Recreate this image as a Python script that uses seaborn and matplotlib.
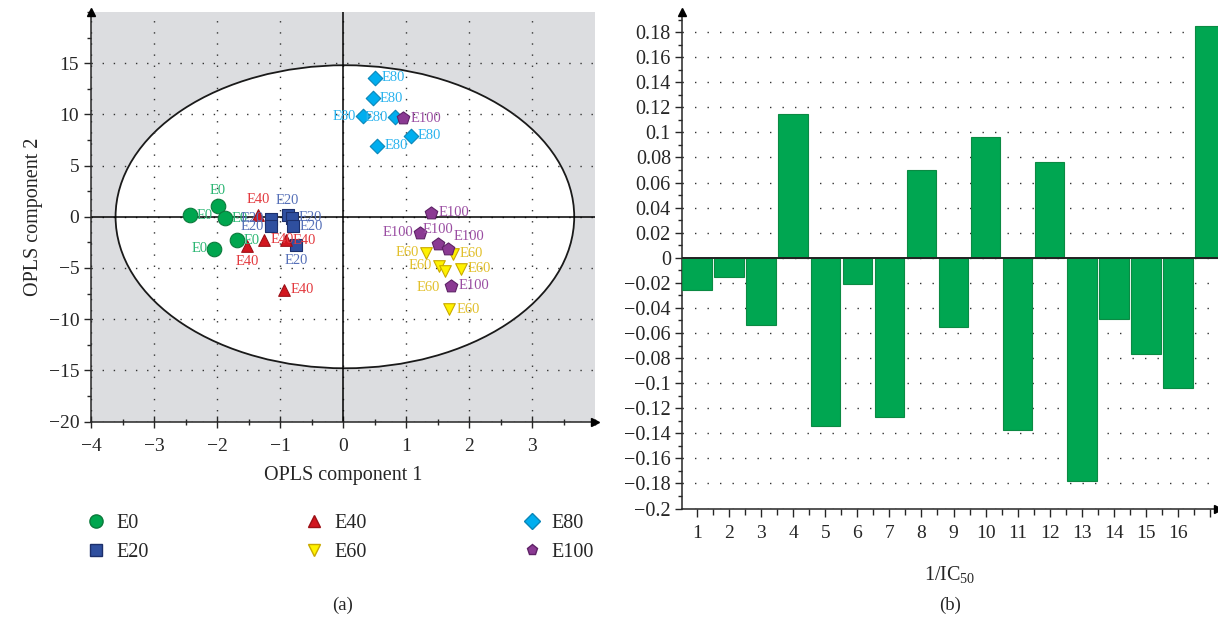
import numpy as np
import pandas as pd
import matplotlib
matplotlib.use("Agg")
import matplotlib.pyplot as plt
import seaborn as sns
from matplotlib.patches import Ellipse
from matplotlib.lines import Line2D
from matplotlib.ticker import MultipleLocator, FuncFormatter

# ---- data ----
groups = ["E0", "E20", "E40", "E60", "E80", "E100"]

e0_x = [-2.43, -1.99, -1.88, -1.68, -2.04]
e0_y = [0.13, 1.07, -0.13, -2.31, -3.12]
e20_x = [-0.88, -0.81, -1.15, -1.15, -0.80, -0.74]
e20_y = [0.13, -0.10, -0.19, -0.91, -0.91, -2.79]
e40_x = [-1.35, -1.26, -0.91, -1.52, -0.94]
e40_y = [0.19, -2.24, -2.31, -2.89, -7.11]
e60_x = [1.32, 1.74, 1.52, 1.62, 1.87, 1.69]
e60_y = [-3.51, -3.60, -4.81, -5.29, -5.10, -9.03]
e80_x = [0.51, 0.47, 0.32, 0.83, 1.08, 0.545]
e80_y = [13.6, 11.56, 9.81, 9.74, 7.92, 6.95]
e100_x = [0.96, 1.40, 1.23, 1.51, 1.67, 1.72]
e100_y = [9.61, 0.39, -1.56, -2.66, -3.12, -6.75]

bar_idx = list(range(1, 18))
bar_vals = [-0.026, -0.015, -0.054, 0.115, -0.134, -0.021, -0.127, 0.070,
            -0.055, 0.096, -0.137, 0.076, -0.178, -0.049, -0.077, -0.104, 0.185]
bar_ticklabels = [str(i) for i in range(1, 17)] + [""]

# where each point label sits relative to its marker
label_side = {
    "E0": ["r", "a", "r", "r", "l"],
    "E20": ["a", "r", "l", "l", "r", "b"],
    "E40": ["a", "r", "r", "b", "r"],
    "E60": ["l", "r", "l", "bl", "r", "r"],
    "E80": ["r", "r", "l", "l", "r", "r"],
    "E100": ["r", "r", "l", "a", "ar", "r"],
}

xs = [e0_x, e20_x, e40_x, e60_x, e80_x, e100_x]
ys = [e0_y, e20_y, e40_y, e60_y, e80_y, e100_y]
rows = []
for g, gx, gy in zip(groups, xs, ys):
    for i, (a, b) in enumerate(zip(gx, gy)):
        rows.append({"group": g, "c1": a, "c2": b, "side": label_side[g][i]})
df = pd.DataFrame(rows)

face = {"E0": "#00a64f", "E20": "#2f4f9f", "E40": "#d2161f", "E60": "#fff200",
        "E80": "#00aeef", "E100": "#8b3a93"}
edge = {"E0": "#0b7a3b", "E20": "#1c2f6b", "E40": "#9c1016", "E60": "#c9a900",
        "E80": "#0a86b8", "E100": "#5e2266"}
textc = {"E0": "#2bb673", "E20": "#5670b8", "E40": "#e33a3f", "E60": "#e2c02c",
         "E80": "#2ab3ee", "E100": "#9a4da2"}
mark = {"E0": "o", "E20": "s", "E40": "^", "E60": "v", "E80": "D", "E100": "p"}
msize = {"E0": 110, "E20": 65, "E40": 70, "E60": 70, "E80": 55, "E100": 90}

sns.set_style("ticks")
plt.rcParams["font.family"] = ["Liberation Serif", "DejaVu Serif"]
plt.rcParams["mathtext.fontset"] = "custom"
plt.rcParams["mathtext.rm"] = "Liberation Serif"
plt.rcParams["mathtext.it"] = "Liberation Serif:italic"

fig = plt.figure(figsize=(12.18, 6.22), dpi=100)
ax1 = fig.add_axes([91 / 1218, 1 - 421.5 / 622, 504 / 1218, 409.5 / 622])
ax2 = fig.add_axes([682 / 1218, 1 - 508.5 / 622, 536 / 1218, 496.5 / 622])

# ---- (a) OPLS score plot ----
ax1.set_facecolor("#dcdde0")
ax1.add_patch(Ellipse((0.03, 0), 7.28, 29.6, facecolor="white", edgecolor="#1a1a1a",
                      lw=1.3, zorder=0.2))
ax1.set_axisbelow(True)
ax1.grid(True, color="#333333", linestyle=(0, (1, 7)), linewidth=1.0)
ax1.axhline(0, color="black", lw=1.1, zorder=1)
ax1.axvline(0, color="black", lw=1.1, zorder=1)

for g in groups:
    sub = df[df["group"] == g]
    sns.scatterplot(data=sub, x="c1", y="c2", marker=mark[g], s=msize[g],
                    color=face[g], edgecolor=edge[g], linewidth=0.8, ax=ax1,
                    zorder=3, legend=False)

offs = {"r": ((5, 0), "left", "center"), "l": ((-5, 0), "right", "center"),
        "a": ((0, 6), "center", "bottom"), "b": ((0, -6), "center", "top"),
        "bl": ((-4, -7), "right", "top"), "ar": ((4, 4), "left", "bottom")}
for _, r in df.iterrows():
    (dx, dy), ha, va = offs[r["side"]]
    ax1.annotate(r["group"], (r["c1"], r["c2"]), xytext=(dx, dy),
                 textcoords="offset points", ha=ha, va=va, fontsize=10.5,
                 color=textc[r["group"]], zorder=4)

ax1.set_xlim(-4, 4)
ax1.set_ylim(-20, 20)
ax1.set_xticks([-4, -3, -2, -1, 0, 1, 2, 3])
ax1.set_yticks([-20, -15, -10, -5, 0, 5, 10, 15])
ax1.xaxis.set_minor_locator(MultipleLocator(0.5))
ax1.yaxis.set_minor_locator(MultipleLocator(2.5))
ax1.tick_params(axis="x", which="major", direction="inout", length=8, width=1, labelsize=14, pad=8)
ax1.tick_params(axis="x", which="minor", direction="inout", length=5, width=1)
ax1.tick_params(axis="y", which="major", direction="out", length=5, width=1, labelsize=14)
ax1.tick_params(axis="y", which="minor", direction="out", length=3, width=1)
for s in ["top", "right"]:
    ax1.spines[s].set_visible(False)
for s in ["left", "bottom"]:
    ax1.spines[s].set_linewidth(1.1)
ax1.plot(0, 1, "^k", transform=ax1.transAxes, clip_on=False, markersize=6, zorder=5)
ax1.plot(1, 0, ">k", transform=ax1.transAxes, clip_on=False, markersize=6, zorder=5)
ax1.set_xlabel("OPLS component 1", fontsize=14.5, labelpad=8)
ax1.set_ylabel("OPLS component 2", fontsize=14.5, labelpad=4)

handles = [Line2D([], [], linestyle="none", marker=mark[g], markersize=9.5 if g == "E0" else 8,
                  markerfacecolor=face[g], markeredgecolor=edge[g], label=g) for g in groups]
fig.legend(handles=handles, ncol=3, loc="center left", bbox_to_anchor=(66 / 1218, 1 - 538 / 622),
           frameon=False, prop={"family": "Liberation Serif", "size": 14.5},
           columnspacing=7.6, handletextpad=0.4, labelspacing=0.5, handlelength=1.2)

# ---- (b) bar chart ----
sns.barplot(x=bar_idx, y=bar_vals, native_scale=True, width=0.92, color="#00a651",
            saturation=1, edgecolor="#0b8a43", linewidth=0.8, errorbar=None, ax=ax2, zorder=3)
ax2.set_xlim(0.53, 17.25)
ax2.set_ylim(-0.2, 0.196)
ax2.axhline(0, color="#222222", lw=1.4, zorder=4)
ax2.set_yticks(np.round(np.arange(-0.2, 0.181, 0.02), 2))
ax2.yaxis.set_major_formatter(
    FuncFormatter(lambda v, p: f"{round(v, 2) + 0.0:g}".replace("-", "\u2212")))
ax2.yaxis.set_minor_locator(MultipleLocator(0.01))
ax2.set_xticks(bar_idx)
ax2.set_xticklabels(bar_ticklabels)
ax2.xaxis.set_minor_locator(MultipleLocator(0.5))
ax2.set_axisbelow(True)
ax2.grid(True, axis="y", color="#333333", linestyle=(0, (1, 8)), linewidth=1.0)
ax2.tick_params(axis="x", which="major", direction="out", length=6, width=1, labelsize=14, pad=6)
ax2.tick_params(axis="x", which="minor", direction="out", length=4, width=1)
ax2.tick_params(axis="y", which="major", direction="out", length=5, width=1, labelsize=14.5, pad=3)
ax2.tick_params(axis="y", which="minor", direction="out", length=3, width=1)
for s in ["top", "right"]:
    ax2.spines[s].set_visible(False)
for s in ["left", "bottom"]:
    ax2.spines[s].set_linewidth(1.1)
ax2.plot(0, 1, "^k", transform=ax2.transAxes, clip_on=False, markersize=6, zorder=5)
ax2.plot(1, 0, ">k", transform=ax2.transAxes, clip_on=False, markersize=6, zorder=5)
ax2.set_xlabel("1/IC$_{50}$", fontsize=14.5, labelpad=16)
ax2.set_ylabel("")

fig.text(343 / 1218, 1 - 605 / 622, "(a)", ha="center", va="center", fontsize=13.5)
fig.text(950 / 1218, 1 - 605 / 622, "(b)", ha="center", va="center", fontsize=13.5)

fig.savefig("out.png", dpi=100)
